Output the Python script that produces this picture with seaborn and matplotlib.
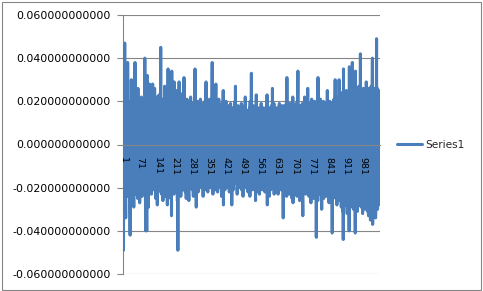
import numpy as np
import pandas as pd
import matplotlib
matplotlib.use("Agg")
import matplotlib.pyplot as plt
from matplotlib.patches import Rectangle
from matplotlib.ticker import FormatStrFormatter
import seaborn as sns

# Series1 values, in thousandths (read/estimated from the picture)
series1_milli = [
    40, 12, -49, 8, -15, 22, -6, 47, -10, 18, -21, -34, 14, 3, -18, 25, -9, 11, -24, 38, -12, 6, -19, 15, -7,
    20, -13, 9, -26, -42, 17, -5, 12, -20, 30, -8, 19, -16, 4, -22, 23, -11, 8, -17, -29, 15, -3, 21, -14, 38,
    -9, 16, -23, 7, -12, 24, -18, 10, -6, 19, -25, 26, -13, 5, -17, 21, -8, 14, -27, 9, -15, 18, -4, 12, -20,
    22, -10, 6, -24, 15, -7, 20, -16, 3, -21, 17, -12, 8, -19, 40, -14, 11, -40, 23, -9, 16, -18, -40, 10, 32,
    -11, 19, -22, 7, -29, 14, -6, 21, -15, 28, -8, 12, -20, 17, -13, 5, -23, 24, -10, 9, -18, 28, -4, 15, -21,
    11, -16, 20, -7, 26, -19, 8, -12, 18, -25, 13, -5, 22, -17, 6, -28, 19, -9, 14, -22, 10, -14, 23, -6, 16,
    -20, 12, -11, 25, 45, -15, 7, -23, 18, -8, 21, -17, 4, -26, 15, -12, 20, -5, 11, -22, 27, -10, 8, -18, 14,
    -24, 17, -7, 22, -13, 9, -28, 19, -6, 35, -16, 12, -21, 6, -11, 24, -19, 15, -8, 20, -25, 10, -14, -33, 34,
    -9, 18, -20, 13, -5, 22, -17, 8, -23, 29, -12, 16, -7, 11, -21, 19, -10, 6, -18, 25, -14, 9, -26, 14, -49,
    12, -8, 20, -15, 29, -11, 7, -19, 17, -6, 22, -24, 10, -13, 18, -9, 15, -21, 8, -16, 24, -7, 13, -20, 31,
    -12, 16, -18, 9, -22, 19, -6, 14, -25, 11, -10, 21, -15, 5, -17, 20, -8, 12, -23, -26, 15, -11, 18, -5, 10,
    -19, 22, -13, 7, -16, 17, -9, 13, -21, 8, -12, 19, -24, 11, -6, 16, -18, 10, -14, 35, -8, 14, -20, 12, -29,
    17, -10, 9, -17, 20, -7, 13, -22, 15, -12, 6, -19, 18, -9, 11, -15, 21, -13, 8, -20, 16, -6, 12, -18, 14,
    -11, 19, -24, 10, -8, 17, -16, 13, -5, 20, -21, 9, -14, 15, 29, -10, 12, -19, 7, -13, 18, -22, 11, -9, 16,
    -17, 14, -6, 21, -12, 8, -20, 17, -11, 13, -18, 10, -7, 22, 38, -15, 9, -23, 16, -8, 12, -19, 15, -10, 20,
    -14, 7, -21, 18, 28, -12, 11, -17, 14, -6, 19, -22, 9, -13, 16, -9, 21, -18, 12, -7, 15, -20, 10, -15, 17,
    -11, 13, -24, 8, -16, 19, -8, 12, -19, 25, -28, 14, -10, 17, -13, 9, -21, 15, -6, 11, -17, 20, -12, 7, -18,
    16, -9, 13, -20, 10, -14, 18, -7, 12, -22, 15, -11, 8, -16, 19, -13, 11, -19, 14, -28, 9, -15, 17, -8, 13,
    -21, 10, -12, 16, -17, 12, -6, 20, -14, 27, -10, 9, -18, 15, -9, 13, -23, 11, -13, 18, -8, 14, -20, 10, -15,
    17, -11, 12, -19, 8, -16, 15, -7, 19, -21, 11, -12, 13, -17, 9, -24, 16, -10, 14, -18, 10, -8, 18, -15, 22,
    -13, 12, -20, 9, -11, 16, -17, 11, -7, 14, -22, 13, -12, 8, -18, 15, -9, 17, -24, 20, -14, 10, -16, 12, 33,
    -19, 11, -10, 15, -21, 13, -8, 18, -15, 9, -20, 14, -12, 11, -17, 16, -26, 10, -13, 23, -9, 14, -22, 12, -16,
    15, -7, 17, -19, 11, -14, 13, -23, 16, -10, 9, -18, 14, -12, 19, -16, 10, -21, 15, -8, 13, -20, 12, -15, 17,
    -11, 14, -18, 9, -22, 16, -13, 11, -17, 12, -9, 18, -20, 23, -28, 15, -12, 10, -19, 14, -10, 17, -24, 11, -15,
    13, -8, 16, -21, 12, -14, 18, -10, 15, -19, 26, -12, 9, -17, 14, -11, 19, -23, 10, -13, 16, -9, 12, -20, 15,
    -16, 11, -12, 17, -22, 13, -9, 15, -23, 10, -18, 14, -11, 19, -15, 12, -20, 9, -13, 16, -21, 11, -10, 18, -17,
    13, -14, 10, -19, -34, 15, -12, 18, -9, 12, -22, 16, -15, 11, -18, 14, -10, 20, -24, 31, -13, 12, -17, 9, -20,
    17, -11, 14, -23, 10, -16, 19, -8, 13, -21, 15, -12, 11, -18, 16, -25, 12, -14, 22, -27, 9, -17, 14, -10, 18,
    -20, 12, -13, 16, -22, 11, -15, 19, -9, 14, -24, 13, -11, 20, 34, -16, 10, -18, 15, -12, 17, -26, 11, -14, 18,
    -10, 13, -21, 16, -17, 12, -9, 19, -25, -33, 14, -13, 11, -20, 17, -15, 22, -11, 10, -19, 15, -23, 12, -16, 20,
    -12, 14, -22, 11, 26, -18, 13, -10, 17, -24, 15, -14, 12, -20, 19, -9, 16, -27, 11, -15, 21, -13, 14, -19, 10,
    -22, 18, -11, 15, -25, 13, -16, 20, -12, 17, -21, 11, -14, 19, -43, 16, -18, 12, -10, 22, -26, 31, -15, 13, -20,
    17, -12, 14, -23, 11, -17, 21, -9, 16, -19, 13, -30, 18, -14, 12, -22, 15, -11, 20, -25, 14, -16, 17, -13, 11,
    -21, 19, -15, 13, -24, 16, -10, 18, -19, 25, -14, 12, -22, 17, -12, 15, -27, 14, -17, 20, -13, 11, -23, 18, -16,
    14, -20, 16, -12, -41, 19, -15, 13, -25, 17, -11, 21, -18, 15, -22, 12, 30, -16, 14, -24, 18, -13, 20, -28, 16,
    -17, 13, -21, 19, -14, 22, -26, 30, -12, 15, -23, 18, -19, 16, -13, 24, -29, 14, -18, 21, -15, 17, -31, 20, -44,
    35, -16, 18, -24, 14, -21, 22, -13, 17, -28, 19, -15, 25, -20, 16, -32, 21, -14, 18, -26, 23, -17, 15, -40, 36,
    -19, 20, -24, 17, -15, 22, -29, 18, -21, 24, -16, 38, -25, 19, -18, 23, -30, 17, -20, 26, -23, 21, -17, -41, 34,
    -22, 19, -27, 24, -16, 20, -31, 18, -19, 25, -24, 21, -18, 27, -28, 17, -21, 23, -26, 42, -20, 19, -29, 22, -17,
    24, -25, 18, -32, 21, -19, 26, -22, 17, -28, 23, -20, 19, -30, 25, -18, 22, -27, 29, -21, 20, -24, 18, -31, 24,
    -19, 21, -33, 26, -23, 19, -29, 24, -20, 22, -35, 18, -25, 27, -21, 20, -30, 23, 40, -37, 25, -22, 19, -32, 26,
    -24, 21, -28, 23, -20, 26, -34, 22, -25, 20, 49, -27, 24, 26, -30, 21, -23, 18, -28, 25, -20, 22, -18, 10, 0,
]
series_name = "Series1"
y_ticks = [-0.06, -0.04, -0.02, 0.0, 0.02, 0.04, 0.06]
x_tick_step = 70

values = np.array(series1_milli, dtype=float) / 1000.0
index = np.arange(1, len(values) + 1)
df = pd.DataFrame({"idx": index, "value": values})
x_ticks = list(range(1, len(values) + 1, x_tick_step))

sns.set_style("white")
plt.rcParams["font.family"] = ["DejaVu Sans"]

W, H = 483, 291
fig = plt.figure(figsize=(W / 100, H / 100), dpi=100)
ax = fig.add_axes([123 / W, 1 - 274 / H, (380 - 123) / W, (274 - 15) / H])

grey = "#868686"
line_color = "#4a7ebb"

sns.lineplot(data=df, x="idx", y="value", ax=ax, color=line_color,
             linewidth=2.2, label=series_name, zorder=3)

ax.set_xlim(1, len(values))
ax.set_ylim(y_ticks[0], y_ticks[-1])
ax.set_yticks(y_ticks)
ax.yaxis.set_major_formatter(FormatStrFormatter("%.12f"))
ax.set_xticks(x_ticks)
ax.set_xlabel("")
ax.set_ylabel("")

ax.grid(axis="y", color=grey, linewidth=0.8, zorder=1)
ax.grid(axis="x", visible=False)
ax.set_axisbelow(True)
for s in ["top", "right", "bottom"]:
    ax.spines[s].set_visible(False)
ax.spines["left"].set_color(grey)
ax.spines["left"].set_linewidth(0.8)

# category axis drawn on top of the data, crossing at y = 0
ax2 = ax.twiny()
ax2.set_xlim(ax.get_xlim())
ax2.patch.set_visible(False)
for s in ["top", "right", "left"]:
    ax2.spines[s].set_visible(False)
ax2.spines["bottom"].set_position(("data", 0))
ax2.spines["bottom"].set_color(grey)
ax2.spines["bottom"].set_linewidth(0.8)
ax2.spines["bottom"].set_zorder(0)
ax2.xaxis.set_ticks_position("bottom")
ax2.xaxis.set_label_position("bottom")
ax2.set_xticks(x_ticks)
ax2.set_xticklabels([str(v) for v in x_ticks], rotation=-90, fontsize=6.8)
ax2.tick_params(axis="x", which="both", bottom=True, top=False,
                labelbottom=True, labeltop=False, length=0, pad=9,
                labelcolor="black")
for lab in ax2.get_xticklabels():
    lab.set_va("top")
    lab.set_ha("center")
ax2.grid(False)

# main axes: no x ticks (twiny re-enables them), y ticks outward
ax.tick_params(axis="x", which="both", bottom=False, top=False,
               labelbottom=False, labeltop=False, length=0)
ax.tick_params(axis="y", which="both", left=True, length=4, width=0.8,
               color=grey, pad=5, labelsize=7.9, labelcolor="black")

ax.get_legend().remove()
handles, labels = ax.get_legend_handles_labels()
fig.legend(handles, labels, loc="center left",
           bbox_to_anchor=(397 / W, 1 - 145 / H), frameon=False,
           fontsize=7.6, handlelength=2.4, handletextpad=0.3, borderpad=0,
           borderaxespad=0)

fig.patches.append(Rectangle((1.5 / W, 1.5 / H), (W - 3.5) / W, (H - 3.5) / H,
                             transform=fig.transFigure, fill=False,
                             edgecolor=grey, linewidth=0.8))

fig.savefig("out.png", dpi=100)
